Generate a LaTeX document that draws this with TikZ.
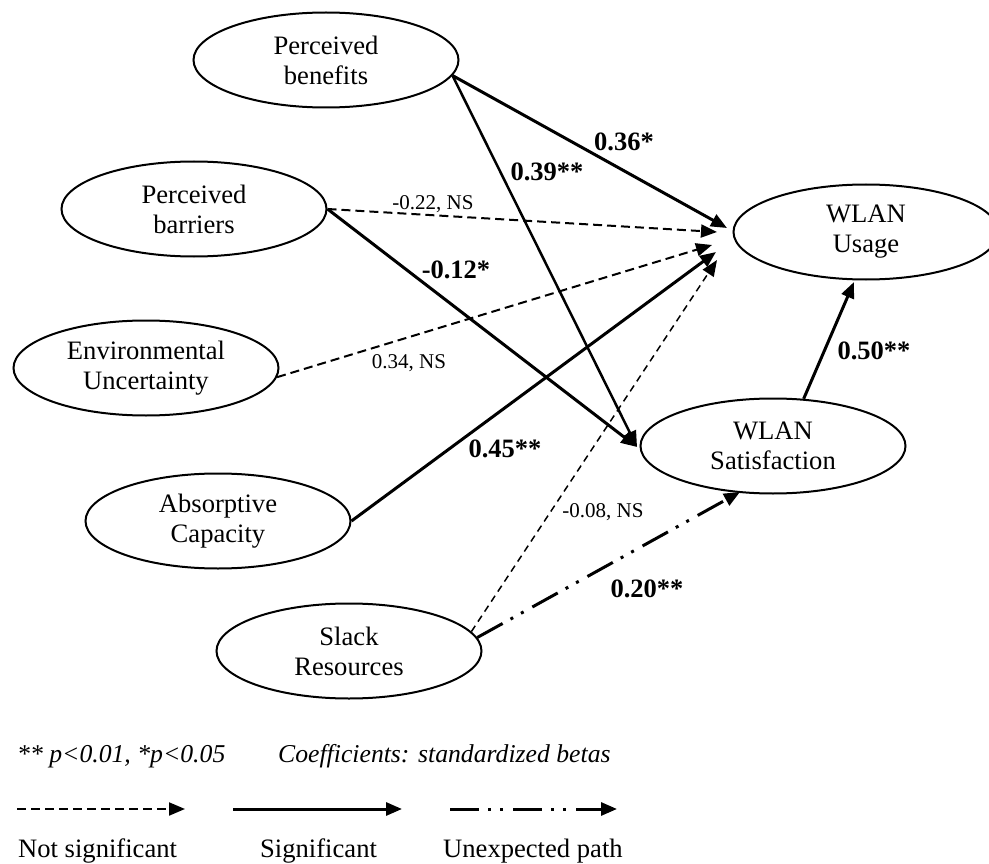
\documentclass[tikz,border=0pt]{standalone}
\usepackage{fontspec}
\setmainfont{Liberation Serif}
\usetikzlibrary{shapes.geometric,arrows.meta}
\begin{document}
\begin{tikzpicture}[x=1pt,y=-1pt,
  latent/.style={ellipse,draw,line width=2pt,minimum width=265pt,minimum height=95pt,inner sep=0pt,align=center,font=\fontsize{26.6}{30}\selectfont},
  tipx/.style={-{Triangle[length=16pt,width=13pt]}},
  sig/.style={tipx,line width=3pt},
  ns/.style={tipx,line width=2pt,dash pattern=on 9pt off 5pt},
  nsthin/.style={tipx,line width=1.5pt,dash pattern=on 7pt off 5pt},
  unexp/.style={tipx,line width=3pt,dash pattern=on 29pt off 9pt on 3pt off 9pt on 3pt off 10pt},
  blab/.style={font=\fontsize{26.5}{30}\selectfont\bfseries,inner sep=0pt},
  nlab/.style={font=\fontsize{21}{24}\selectfont,inner sep=0pt},
  itext/.style={font=\fontsize{25.7}{30}\selectfont\itshape,inner sep=0pt,anchor=base west},
  legtext/.style={font=\fontsize{26.6}{30}\selectfont,inner sep=0pt,anchor=base west}
]
\useasboundingbox (0,0) rectangle (989,864);

% latent variables
\node[latent] (benefits) at (326,60) {Perceived\\benefits};
\node[latent] (barriers) at (194,209) {Perceived\\barriers};
\node[latent] (env) at (146,368) {Environmental\\Uncertainty};
\node[latent] (absorb) at (218,521) {Absorptive\\Capacity};
\node[latent] (slack) at (349,651) {Slack\\Resources};
\node[latent] (usage) at (866,232) {WLAN\\Usage};
\node[latent] (sat) at (773,446) {WLAN\\Satisfaction};

% arrow tip points
\coordinate (tU1) at (727,228);
\coordinate (tU2) at (717,232);
\coordinate (tU3) at (712,245);
\coordinate (tU4) at (716,252);
\coordinate (tU5) at (717,260);
\coordinate (tS1) at (637,447);
\coordinate (tS2) at (740,492);
\coordinate (tU6) at (854,282);

% paths
\draw[sig] (benefits.-7) -- (tU1);
\draw[sig,line width=2.5pt] (benefits.-7) -- (tS1);
\draw[ns] (barriers.east) -- (tU2);
\draw[sig] (barriers.east) -- (tS1);
\draw[ns] (env.-4) -- (tU3);
\draw[sig] (absorb.east) -- (tU4);
\draw[nsthin] (slack.9) -- (tU5);
\draw[unexp] (slack.6) -- (tS2);
\draw[sig] (sat.57) -- (tU6);

% coefficient labels
\node[blab] (l36) at (624,142) {0.36*};
\node[blab] (l39) at (547,172) {0.39**};
\node[nlab] (l22) at (433,204) {-0.22, NS};
\node[blab] (l12) at (456,270) {-0.12*};
\node[nlab] (l34) at (409,363) {0.34, NS};
\node[blab] (l45) at (505,449) {0.45**};
\node[nlab] (l08) at (603,512) {-0.08, NS};
\node[blab] (l20) at (647,589) {0.20**};
\node[blab] (l50) at (874,351) {0.50**};

% notes
\node[itext] (note1) at (17,762) {** p<0.01, *p<0.05};
\node[itext] (note2) at (278,762) {Coefficients: standardized betas};

% legend
\coordinate (la1) at (17,809);
\coordinate (la2) at (185,809);
\coordinate (lb1) at (233,809);
\coordinate (lb2) at (402,809);
\coordinate (lc1) at (450,809);
\coordinate (lc2) at (617,809);
\draw[ns] (la1) -- (la2);
\draw[sig] (lb1) -- (lb2);
\draw[unexp] (lc1) -- (lc2);
\node[legtext] (lt1) at (18,857) {Not significant};
\node[legtext] (lt2) at (260,857) {Significant};
\node[legtext] (lt3) at (443,857) {Unexpected path};
\end{tikzpicture}
\end{document}
